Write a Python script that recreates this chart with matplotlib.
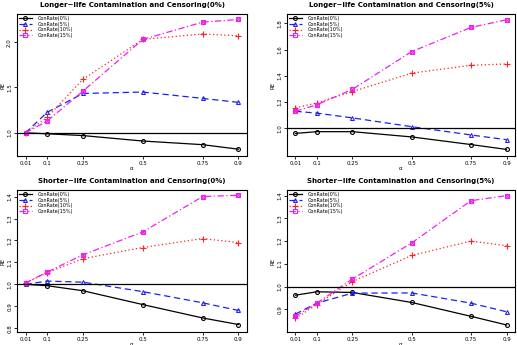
import matplotlib
matplotlib.use("Agg")
import matplotlib.pyplot as plt

alpha = [0.01, 0.1, 0.25, 0.5, 0.75, 0.9]
series_labels = ["ConRate(0%)", "ConRate(5%)", "ConRate(10%)", "ConRate(15%)"]

titles = [
    "Longer\u2212life Contamination and Censoring(0%)",
    "Longer\u2212life Contamination and Censoring(5%)",
    "Shorter\u2212life Contamination and Censoring(0%)",
    "Shorter\u2212life Contamination and Censoring(5%)",
]

# panel 1: longer-life, censoring 0%
p1_cr0 = [1.00, 0.99, 0.97, 0.91, 0.87, 0.82]
p1_cr5 = [1.00, 1.226, 1.434, 1.45, 1.38, 1.336]
p1_cr10 = [1.00, 1.17, 1.59, 2.03, 2.09, 2.07]
p1_cr15 = [1.00, 1.13, 1.46, 2.03, 2.22, 2.25]

# panel 2: longer-life, censoring 5%
p2_cr0 = [0.962, 0.975, 0.975, 0.935, 0.877, 0.84]
p2_cr5 = [1.13, 1.116, 1.08, 1.013, 0.95, 0.914]
p2_cr10 = [1.156, 1.194, 1.28, 1.42, 1.48, 1.49]
p2_cr15 = [1.13, 1.18, 1.297, 1.584, 1.768, 1.826]

# panel 3: shorter-life, censoring 0%
p3_cr0 = [1.00, 0.994, 0.971, 0.908, 0.847, 0.817]
p3_cr5 = [1.00, 1.015, 1.01, 0.967, 0.916, 0.881]
p3_cr10 = [1.006, 1.053, 1.117, 1.168, 1.209, 1.19]
p3_cr15 = [1.006, 1.056, 1.135, 1.239, 1.40, 1.406]

# panel 4: shorter-life, censoring 5%
p4_cr0 = [0.962, 0.977, 0.974, 0.93, 0.869, 0.831]
p4_cr5 = [0.879, 0.927, 0.971, 0.972, 0.927, 0.889]
p4_cr10 = [0.86, 0.921, 1.022, 1.137, 1.20, 1.18]
p4_cr15 = [0.869, 0.927, 1.033, 1.192, 1.378, 1.40]

panels = [
    [p1_cr0, p1_cr5, p1_cr10, p1_cr15],
    [p2_cr0, p2_cr5, p2_cr10, p2_cr15],
    [p3_cr0, p3_cr5, p3_cr10, p3_cr15],
    [p4_cr0, p4_cr5, p4_cr10, p4_cr15],
]
yticks = [
    [1.0, 1.5, 2.0],
    [1.0, 1.2, 1.4, 1.6, 1.8],
    [0.8, 0.9, 1.0, 1.1, 1.2, 1.3, 1.4],
    [0.9, 1.0, 1.1, 1.2, 1.3, 1.4],
]
ylims = [(0.745, 2.31), (0.79, 1.87), (0.783, 1.43), (0.80, 1.425)]
xtick_labels = ["0.01", "0.1", "0.25", "0.5", "0.75", "0.9"]

colors = ["black", "#2020ee", "#ff2020", "#ee20ee"]
styles = ["-", (0, (5, 3)), (0, (1, 2)), (0, (5, 2, 1, 2))]
markers = ["o", "^", "+", "s"]

W, H = 517, 345
fig = plt.figure(figsize=(W / 100, H / 100), dpi=100)

boxes = [
    (17, 14, 247, 156),
    (287, 14, 515, 156),
    (17, 190, 247, 332),
    (287, 190, 515, 332),
]

for idx, (box, data) in enumerate(zip(boxes, panels)):
    l, t, r, b = box
    ax = fig.add_axes([l / W, 1 - b / H, (r - l) / W, (b - t) / H])
    for j, ys in enumerate(data):
        ax.plot(alpha, ys, color=colors[j], linestyle=styles[j], lw=0.9,
                marker=markers[j], ms=2.8 if j != 2 else 4.0,
                mfc="none", mec=colors[j], mew=0.8, label=series_labels[j])
        if j == 3:
            ax.plot(alpha, ys, linestyle="none", marker="x", ms=2.6,
                    mec=colors[j], mew=0.8)
    ax.axhline(1.0, color="black", lw=0.9)
    ax.set_xlim(-0.0256, 0.9356)
    ax.set_ylim(*ylims[idx])
    ax.set_xticks(alpha)
    ax.set_xticklabels(xtick_labels, fontsize=4)
    ax.set_yticks(yticks[idx])
    ax.set_yticklabels([f"{v:.1f}" for v in yticks[idx]], fontsize=4,
                       rotation=90, va="center")
    ax.tick_params(length=2.5, width=0.6, pad=1.0)
    ax.set_ylabel("RE", fontsize=4)
    ax.yaxis.set_label_coords(-11.5 / (r - l), 0.5)
    ax.set_xlabel("\u03b1", fontsize=4, labelpad=0)
    ax.set_title(titles[idx], fontsize=5, fontweight="bold", pad=5)
    for s in ax.spines.values():
        s.set_linewidth(0.8)
    ax.legend(loc="upper left", fontsize=3.5, frameon=False,
              handlelength=2.6, borderaxespad=0.2, labelspacing=0.15,
              handletextpad=1.2, borderpad=0.2)

fig.savefig("out.png", dpi=100)
